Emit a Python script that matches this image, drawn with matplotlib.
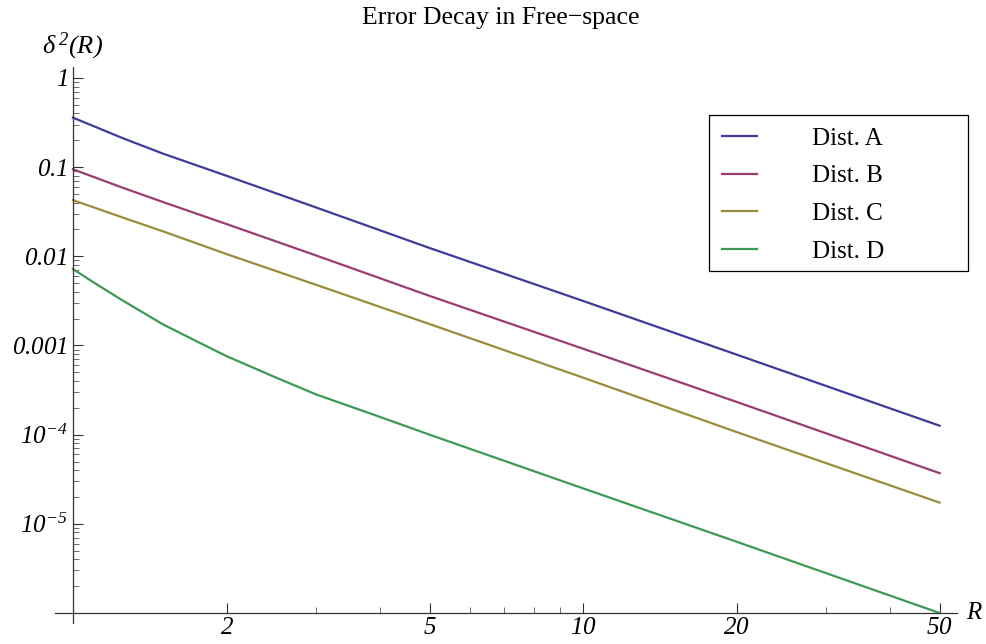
import numpy as np
import matplotlib
matplotlib.use('Agg')
import matplotlib.pyplot as plt
from matplotlib.ticker import FixedLocator, NullFormatter
from matplotlib.patches import Rectangle

plt.rcParams['font.family'] = ['Liberation Serif', 'DejaVu Serif']
plt.rcParams['mathtext.fontset'] = 'custom'
plt.rcParams['mathtext.rm'] = 'Liberation Serif:italic'
plt.rcParams['mathtext.it'] = 'Liberation Serif:italic'

# data
R = [1, 1.25, 1.5, 2, 3, 5, 10, 20, 50]
distA = [0.359, 0.212, 0.142, 0.080, 0.0352, 0.0124, 3.16e-3, 7.9e-4, 1.26e-4]
distB = [0.0946, 0.0589, 0.0407, 0.0230, 0.0102, 3.6e-3, 9.2e-4, 2.33e-4, 3.7e-5]
distC = [0.0427, 0.0273, 0.0191, 0.0106, 4.78e-3, 1.74e-3, 4.36e-4, 1.07e-4, 1.73e-5]
R_D = [1, 1.1, 1.25, 1.5, 1.75, 2, 2.5, 3, 4, 5, 10, 20, 50]
distD = [0.0072, 5.06e-3, 3.21e-3, 1.73e-3, 1.11e-3, 7.6e-4, 4.37e-4, 2.82e-4, 1.58e-4,
         1.0e-4, 2.5e-5, 6.3e-6, 1.0e-6]

names = ['Dist. A', 'Dist. B', 'Dist. C', 'Dist. D']
colors = ['#3D3D99', '#993D71', '#998C3D', '#3D9954']

yticks = [1, 0.1, 0.01, 0.001, 1e-4, 1e-5]
ylabels = ['$1$', '$0.1$', '$0.01$', '$0.001$', '$10^{-4}$', '$10^{-5}$']
xticks = [2, 5, 10, 20, 50]
xminor = [3, 4, 6, 7, 8, 9, 30, 40]

fig = plt.figure(figsize=(9.87, 6.44), dpi=100)
ax = fig.add_axes([0.0557, 0.0481, 0.914, 0.848])

series = [(R, distA), (R, distB), (R, distC), (R_D, distD)]
for (xs, ys), nm, c in zip(series, names, colors):
    ax.plot(xs, ys, color=c, lw=1.6, label=nm, clip_on=False)

ax.set_xscale('log')
ax.set_yscale('log')
ax.set_xlim(0.922, 54.1)
ax.set_ylim(1e-6, 1.33)

for s in ['top', 'right']:
    ax.spines[s].set_visible(False)
ax.spines['left'].set_position(('data', 1))
ax.spines['left'].set_bounds(7.7e-7, 1.33)
for s in ['left', 'bottom']:
    ax.spines[s].set_linewidth(0.9)
    ax.spines[s].set_color('#333333')

ax.yaxis.set_major_locator(FixedLocator(yticks))
ax.set_yticklabels(ylabels)
ymin = [m * 10.0**e for e in range(-6, 0) for m in range(2, 10)]
ax.yaxis.set_minor_locator(FixedLocator(ymin))
ax.yaxis.set_minor_formatter(NullFormatter())

ax.xaxis.set_major_locator(FixedLocator(xticks))
ax.set_xticklabels(['$%d$' % t for t in xticks])
ax.xaxis.set_minor_locator(FixedLocator(xminor))
ax.xaxis.set_minor_formatter(NullFormatter())

ax.tick_params(which='major', direction='in', length=7, width=0.8, labelsize=18, pad=4, color='#333333')
ax.tick_params(which='minor', direction='in', length=4, width=0.6, color='#555555')
ax.tick_params(axis='x', which='major', pad=3)

fig.text(501 / 987, 1 - 18 / 644, 'Error Decay in Free\u2212space', ha='center', va='center', fontsize=18.5)
fig.text(72 / 987, 1 - 46 / 644, r'$\delta^{\,2}(R)$', ha='center', va='center', fontsize=19)
fig.text(975 / 987, 1 - 613 / 644, r'$R$', ha='center', va='center', fontsize=18)

leg = ax.legend(loc='upper left', bbox_to_anchor=(709 / 987, 1 - 115 / 644),
                bbox_transform=fig.transFigure, fontsize=18, frameon=False,
                handlelength=1.4, handletextpad=2.2,
                labelspacing=0.6, borderpad=0.5, borderaxespad=0)

# legend box drawn as in the reference (wider than the entries)
fig.patches.append(Rectangle((709 / 987, 1 - 271 / 644), 259 / 987, 156 / 644,
                             transform=fig.transFigure, fill=False,
                             edgecolor='black', linewidth=0.9))

fig.savefig('out.png', dpi=100)
